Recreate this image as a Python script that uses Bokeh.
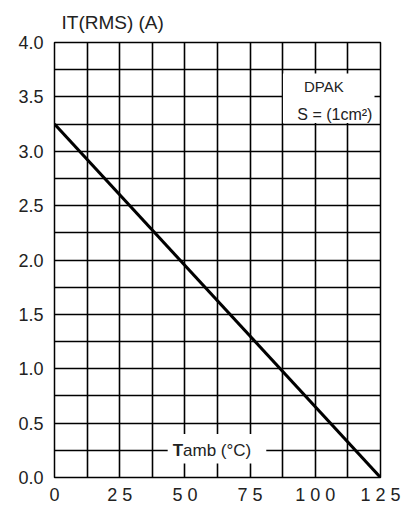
from bokeh.plotting import figure
from bokeh.models import FixedTicker, PrintfTickFormatter
from bokeh.embed import file_html
from bokeh.resources import INLINE
from bokeh.core.properties import value

# Derating curve: on-state RMS current vs ambient temperature (DPAK, S = 1 cm^2)
temp_c = [0, 125]
current_a = [3.25, 0.0]

x_ticks = [0, 25, 50, 75, 100, 125]
x_tick_labels = ["0", "2 5", "5 0", "7 5", "1 0 0", "1 2 5"]
y_ticks = [0.0, 0.5, 1.0, 1.5, 2.0, 2.5, 3.0, 3.5, 4.0]
x_grid = [0, 12.5, 25, 37.5, 50, 62.5, 75, 87.5, 100, 112.5, 125]
y_grid = [0, 0.25, 0.5, 0.75, 1.0, 1.25, 1.5, 1.75, 2.0, 2.25, 2.5, 2.75,
          3.0, 3.25, 3.5, 3.75, 4.0]

FONT = "Liberation Sans"

p = figure(width=403, height=510, x_range=(0, 125), y_range=(0, 4),
           output_backend="svg", toolbar_location=None,
           min_border_left=54, min_border_right=23,
           min_border_top=41, min_border_bottom=33)

p.background_fill_color = "white"
p.border_fill_color = "white"
p.outline_line_color = "black"
p.outline_line_width = 1.5

p.title.text = "IT(RMS) (A)"
p.title.align = "left"
p.title.offset = 7
p.title.standoff = 19
p.title.vertical_align = "bottom"
p.title.text_font = FONT
p.title.text_font_size = "19px"
p.title.text_font_style = "normal"
p.title.text_color = "#222222"

# grid
p.xgrid.ticker = FixedTicker(ticks=x_grid)
p.ygrid.ticker = FixedTicker(ticks=y_grid)
for g in (p.xgrid, p.ygrid):
    g.grid_line_color = "black"
    g.grid_line_alpha = 1.0
    g.grid_line_width = 1.6

# axes
p.xaxis.ticker = FixedTicker(ticks=x_ticks)
p.xaxis.major_label_overrides = {t: s for t, s in zip(x_ticks, x_tick_labels)}
p.yaxis.ticker = FixedTicker(ticks=y_ticks)
p.yaxis.formatter = PrintfTickFormatter(format="%.1f")
for ax in (p.xaxis, p.yaxis):
    ax.axis_line_color = None
    ax.major_tick_line_color = None
    ax.minor_tick_line_color = None
    ax.major_tick_out = 0
    ax.major_tick_in = 0
    ax.major_label_text_font = FONT
    ax.major_label_text_font_size = "18px"
    ax.major_label_text_color = "#222222"
p.xaxis.major_label_standoff = 7
p.yaxis.major_label_standoff = 11

# white boxes behind annotations
p.quad(left=[43.4, 87.6], right=[81.2, 122.7], bottom=[0.128, 3.26], top=[0.40, 3.716],
       fill_color="white", line_color=None)

# curve
p.line(temp_c, current_a, line_width=3, color="black")

# texts
p.text(x=[49.3], y=[0.245], text=["T"], text_font=value(FONT), text_font_style="bold",
       text_font_size="17px", text_align="right", text_baseline="middle", text_color="#222222")
p.text(x=[49.3], y=[0.245], text=["amb (°C)"], text_font=value(FONT),
       text_font_size="17px", text_align="left", text_baseline="middle", text_color="#222222")
p.text(x=[103.3], y=[3.6], text=["DPAK"], text_font=value(FONT),
       text_font_size="15px", text_align="center", text_baseline="middle", text_color="#222222")
p.text(x=[107.5], y=[3.34], text=["S = (1cm²)"], text_font=value(FONT),
       text_font_size="16px", text_align="center", text_baseline="middle", text_color="#222222")

open("out.html", "w").write(file_html(p, INLINE))
